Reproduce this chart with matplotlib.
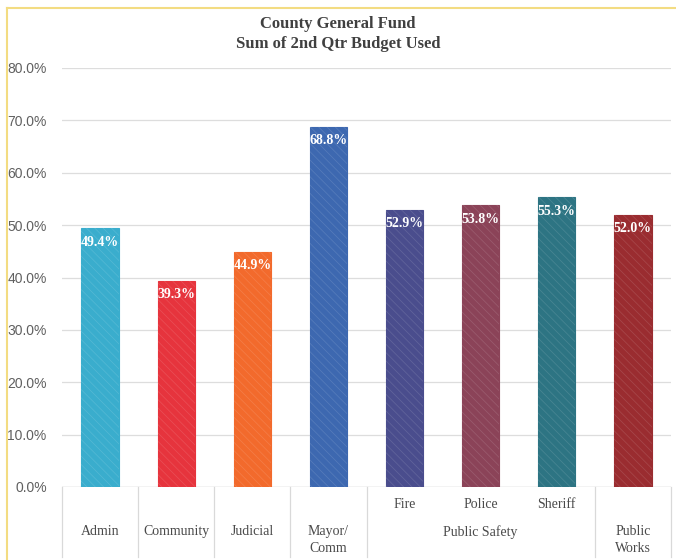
import numpy as np
import matplotlib.pyplot as plt
import matplotlib.transforms as mtransforms

# data
departments = ['Admin', 'Community', 'Judicial', 'Mayor/\nComm', 'Fire', 'Police', 'Sheriff', 'Public\nWorks']
groups = ['', '', '', '', 'Public Safety', 'Public Safety', 'Public Safety', '']
pct_used = [49.4, 39.3, 44.9, 68.8, 52.9, 53.8, 55.3, 52.0]
bar_colors = ['#3AADCD', '#E6343D', '#F26A2C', '#3D68B0', '#4A4D8D', '#8B4358', '#2D7483', '#9A2C30']
yticks = [0, 10, 20, 30, 40, 50, 60, 70, 80]

plt.rcParams['font.family'] = ['Liberation Serif', 'DejaVu Serif']
plt.rcParams['hatch.linewidth'] = 0.6

fig = plt.figure(figsize=(6.76, 5.6), dpi=100)
W, H = 676, 560
ax = fig.add_axes([62 / W, 1 - 487 / H, (671 - 62) / W, (487 - 68) / H])

x = np.arange(len(pct_used))
ax.bar(x, pct_used, width=0.49, color=bar_colors, edgecolor=bar_colors, linewidth=0.8, zorder=2)
# faint diagonal texture like the Excel fill
for xi, v in zip(x, pct_used):
    ax.bar(xi, v, width=0.49, color='none', edgecolor=(1, 1, 1, 0.12), hatch='\\\\\\\\', linewidth=0, zorder=3)

for xi, v in zip(x, pct_used):
    ax.text(xi, v - 1.4, '{:.1f}%'.format(v), ha='center', va='top', color='white',
            fontsize=10, fontweight='bold', zorder=4)

ax.set_xlim(-0.5, len(pct_used) - 0.5)
ax.set_ylim(0, 80)
ax.set_yticks(yticks)
ax.set_yticklabels(['{:.1f}%'.format(t) for t in yticks], color='#606060', fontsize=10,
                   family=['Liberation Sans', 'DejaVu Sans'])
ax.tick_params(axis='y', length=0, pad=11)
ax.tick_params(axis='x', length=0, labelbottom=False)
ax.grid(axis='y', color='#DDDDDD', linewidth=0.9, zorder=0)
for s in ax.spines.values():
    s.set_visible(False)
ax.axhline(0, color='#D9D9D9', linewidth=1, zorder=1)

# two level category axis
trans = mtransforms.blended_transform_factory(ax.transData, ax.transAxes)
px = 1.0 / (487 - 68)
line_bot = -(557 - 487) * px
inner_y = -(505 - 487) * px
outer_y = -(525 - 487) * px

bounds = [-0.5]
for i in range(1, len(groups)):
    if groups[i] == '' or groups[i] != groups[i - 1]:
        bounds.append(i - 0.5)
bounds.append(len(groups) - 0.5)
for b in bounds:
    ax.plot([b, b], [0, line_bot], color='#D9D9D9', linewidth=0.9, transform=trans, clip_on=False)

for i, (d, g) in enumerate(zip(departments, groups)):
    if g == '':
        ax.text(i, outer_y, d, transform=trans, ha='center', va='top', fontsize=10,
                color='#4A4A4A', linespacing=1.4)
    else:
        ax.text(i, inner_y, d, transform=trans, ha='center', va='center', fontsize=10, color='#4A4A4A')

seen = []
for g in groups:
    if g and g not in seen:
        seen.append(g)
        idx = [i for i, gg in enumerate(groups) if gg == g]
        ax.text(np.mean(idx), outer_y, g, transform=trans, ha='center', va='top',
                fontsize=10, color='#4A4A4A')

fig.text(0.5, 1 - 34 / H, 'County General Fund\nSum of 2nd Qtr Budget Used', ha='center', va='center',
         fontsize=12, fontweight='bold', color='#404040', linespacing=1.35)

# yellow frame edge on left and top
fig.add_artist(plt.Line2D([7 / W, 7 / W], [0, 1 - 8 / H], color='#F3DC82', linewidth=1.5, transform=fig.transFigure))
fig.add_artist(plt.Line2D([7 / W, 1], [1 - 8 / H, 1 - 8 / H], color='#F3DC82', linewidth=1.5, transform=fig.transFigure))

fig.savefig('out.png', dpi=100)
